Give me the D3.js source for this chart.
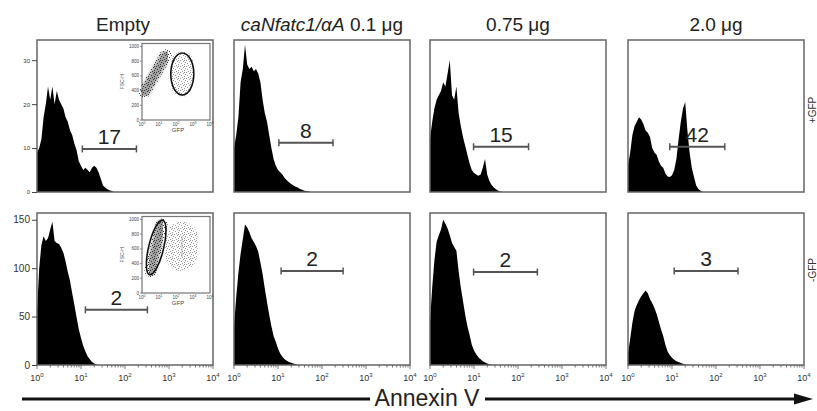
<!DOCTYPE html>
<html>

<head>
  <meta charset="utf-8">
  <style>
    body { margin: 0; background: #fff; }
    text { font-family: "Liberation Sans", Arial, sans-serif; }
  </style>
</head>

<body>
  <script src="https://d3js.org/d3.v7.min.js"></script>
  <script>
    // column titles (italic part + plain part)
    var titleItalic = ["", "caNfatc1/\u03b1A", "", ""];
    var titlePlain = ["Empty", " 0.1 \u03bcg", "0.75 \u03bcg", "2.0 \u03bcg"];
    var rowLabels = ["+GFP", "-GFP"];

    // histogram counts, bins of 0.05 decade starting at 10^0
    var binStep = 0.05;
    var histGfpPos = [
      [9, 10, 12, 17, 20, 24, 21, 24, 20, 23, 21, 20, 19, 17, 16, 14, 13, 11, 9.5, 7, 6, 5, 5.5, 5, 4.5, 5.5, 6, 5.5, 4.5, 3, 1.5, 1, 0.6, 0.4, 0.2],
      [10, 13, 17, 25, 28, 33.5, 29, 28, 28.5, 27.5, 28, 27, 25, 21, 18, 16, 13, 10, 7.5, 6, 5, 4.5, 4, 3.2, 2.7, 2.2, 1.8, 1.5, 1.2, 1, 0.7, 0.5, 0.3, 0.2, 0.1],
      [12, 16, 19, 21, 22, 23, 25, 24, 27, 30, 22, 21, 24, 18, 15, 12.5, 10.5, 8.5, 6.5, 5, 4.3, 4, 3.7, 4, 5.5, 7.5, 4, 2.5, 1.6, 1, 0.6, 0.3, 0.1],
      [6, 9, 13, 15, 16, 17, 16.5, 15.5, 14, 13.5, 12.5, 10, 9, 8.5, 7, 6, 5.5, 4.2, 3.5, 3.4, 3.8, 5, 7.5, 12, 16, 19, 20.5, 14, 9, 5.5, 3.4, 1.5, 0.7, 0.3]
    ];
    var histGfpNeg = [
      [55, 100, 124, 133, 128, 131, 140, 148, 128, 126, 125, 121, 116, 107, 96, 87, 74, 62, 49, 37, 28, 20, 14, 9, 6, 3, 1.5, 0.5],
      [40, 70, 95, 115, 130, 145, 142, 137, 131, 127, 123, 117, 106, 94, 79, 65, 52, 40, 30, 24, 17, 12, 8.5, 6, 4.5, 3, 2.2, 1.5, 0.8, 0.3],
      [45, 80, 108, 127, 134, 140, 150, 146, 141, 134, 126, 122, 118, 97, 80, 66, 52, 40, 31, 21, 15, 11, 8, 6, 4, 2.5, 1.5, 0.8, 0.3],
      [12, 27, 44, 56, 62, 67, 71, 74, 77, 74, 68, 64, 59, 53, 45, 37, 30, 21, 14, 10, 7.5, 5.5, 4, 3, 2, 1.2, 0.6, 0.2]
    ];

    // marker gates: percent, log10 start/end, height in counts
    var gatePctPos = [17, 8, 15, 42];
    var gatePctNeg = [2, 2, 2, 3];
    var gateFromPos = [1.03, 1.02, 0.99, 0.95];
    var gateToPos = [2.26, 2.25, 2.24, 2.2];
    var gateFromNeg = [1.1, 1.07, 0.99, 1.05];
    var gateToNeg = [2.51, 2.48, 2.44, 2.5];
    var gateLevelPos = [9.8, 11.2, 10.3, 10.3];
    var gateLevelNeg = [57, 97, 96, 97];

    var yTicksPos = [0, 10, 20, 30];
    var yTicksNeg = [0, 50, 100, 150];
    var yMax = [34.6, 157];
    var xDecades = [0, 1, 2, 3, 4];

    // GFP vs FSC-H insets: scatter clouds [log GFP, FSC] -> [log GFP, FSC]
    var insetFscTicks = [0, 200, 400, 600, 800, 1000];
    var cloudsPos = [[0.15, 380, 1.4, 880], [2.37, 470, 2.37, 780]];
    var cloudsNeg = [[0.5, 300, 1.15, 930], [2.3, 520, 2.35, 750]];
    // sort gate ellipse: ends of major axis
    var insetGatePos = [2.37, 340, 2.37, 910];
    var insetGateNeg = [0.45, 250, 1.22, 990];

    var W = 817, H = 411;
    var colX = [37, 234, 430, 628], rowY = [40, 213], pw = 176, ph = 152;

    var svg = d3.select("body").append("svg")
      .attr("width", W)
      .attr("height", H);

    var defs = svg.append("defs");
    [["dotsDark", "#3a3a3a"], ["dotsLight", "#999"]].forEach(function(p) {
      var pat = defs.append("pattern").attr("id", p[0])
        .attr("width", 6).attr("height", 6).attr("patternUnits", "userSpaceOnUse");
      [[0, 0], [3, 1], [1, 3], [4, 4], [5, 2], [2, 5], [4, 0]].forEach(function(d) {
        pat.append("rect").attr("x", d[0]).attr("y", d[1])
          .attr("width", 1).attr("height", 1).attr("fill", p[1]);
      });
    });
    defs.append("filter").attr("id", "blur")
      .append("feGaussianBlur").attr("stdDeviation", 1.8);

    // titles
    titlePlain.forEach(function(t, c) {
      var txt = svg.append("text")
        .attr("x", colX[c] + pw / 2 - (c == 0 ? 2 : 0))
        .attr("y", 31)
        .attr("text-anchor", "middle")
        .attr("font-size", 19)
        .attr("fill", "#222");
      if (titleItalic[c]) txt.append("tspan").attr("font-style", "italic").text(titleItalic[c]);
      txt.append("tspan").text(t);
    });

    [0, 1].forEach(function(r) {
      var hists = r == 0 ? histGfpPos : histGfpNeg;
      var pct = r == 0 ? gatePctPos : gatePctNeg;
      var gFrom = r == 0 ? gateFromPos : gateFromNeg;
      var gTo = r == 0 ? gateToPos : gateToNeg;
      var gLev = r == 0 ? gateLevelPos : gateLevelNeg;
      var y = d3.scaleLinear().domain([0, yMax[r]]).range([rowY[r] + ph, rowY[r]]);

      colX.forEach(function(x0, c) {
        var x = d3.scaleLog().domain([1, 1e4]).range([x0, x0 + pw]);
        var g = svg.append("g");

        g.append("clipPath").attr("id", "clip" + r + c)
          .append("rect").attr("x", x0).attr("y", rowY[r]).attr("width", pw).attr("height", ph);

        var pts = [{ lx: 0, c: 0 }].concat(hists[c].map(function(v, i) { return { lx: i * binStep, c: v }; }));
        pts.push({ lx: hists[c].length * binStep, c: 0 });

        var area = d3.area()
          .curve(d3.curveLinear)
          .x(function(d) { return x(Math.pow(10, d.lx)); })
          .y0(y(0))
          .y1(function(d) { return y(d.c); });

        g.append("path")
          .datum(pts)
          .attr("clip-path", "url(#clip" + r + c + ")")
          .attr("fill", "#000")
          .attr("d", area);

        g.append("rect")
          .attr("x", x0).attr("y", rowY[r]).attr("width", pw).attr("height", ph)
          .attr("fill", "none").attr("stroke", "#666").attr("stroke-width", 1.5);

        // gate marker
        var gx1 = x(Math.pow(10, gFrom[c])), gx2 = x(Math.pow(10, gTo[c])), gy = y(gLev[c]);
        g.append("line").attr("x1", gx1).attr("x2", gx2).attr("y1", gy).attr("y2", gy)
          .attr("stroke", "#555").attr("stroke-width", 2);
        [gx1, gx2].forEach(function(px) {
          g.append("line").attr("x1", px).attr("x2", px).attr("y1", gy - 3.5).attr("y2", gy + 3.5)
            .attr("stroke", "#555").attr("stroke-width", 1.5);
        });
        g.append("text")
          .attr("x", (gx1 + gx2) / 2).attr("y", gy - 5)
          .attr("text-anchor", "middle")
          .attr("font-size", 21)
          .attr("fill", "#222")
          .text(pct[c]);

        // y axis on first column
        if (c == 0) {
          var ax = g.append("g")
            .attr("transform", "translate(" + x0 + ",0)")
            .call(d3.axisLeft(y).tickValues(r == 0 ? yTicksPos : yTicksNeg).tickSize(5).tickPadding(2));
          ax.select(".domain").remove();
          ax.selectAll("line").attr("stroke", "#444");
          ax.selectAll("text").attr("font-size", r == 0 ? 6 : 10).attr("fill", "#333")
            .attr("font-family", "Liberation Sans, Arial, sans-serif");
          drawInset(g, x0, rowY[r], r);
        }

        // log x axis on the bottom row
        if (r == 1) {
          var base = rowY[r] + ph;
          xDecades.forEach(function(k) {
            for (var m = 1; m <= 9; m++) {
              if (k == 4 && m > 1) break;
              var px = x(m * Math.pow(10, k));
              g.append("line").attr("x1", px).attr("x2", px)
                .attr("y1", base).attr("y2", base + (m == 1 ? 4 : 2.5))
                .attr("stroke", "#555").attr("stroke-width", 0.8);
            }
            var lab = g.append("text")
              .attr("x", x(Math.pow(10, k))).attr("y", base + 16)
              .attr("text-anchor", "middle")
              .attr("font-size", 9).attr("fill", "#333");
            lab.append("tspan").text("10");
            lab.append("tspan").attr("dy", -4).attr("font-size", 6).text(k);
          });
        }
      });

      // row label in the right margin
      svg.append("text")
        .attr("transform", "translate(816," + (r == 0 ? 110 : 270) + ") rotate(-90)")
        .attr("text-anchor", "middle")
        .attr("font-size", 10)
        .attr("fill", "#333")
        .text(rowLabels[r]);
    });

    function drawInset(g, x0, y0, r) {
      var ix = d3.scaleLog().domain([1, 1e4]).range([x0 + 105, x0 + 173]);
      var iy = d3.scaleLinear().domain([0, 1040]).range([y0 + 80, y0 + 3.5]);
      var ig = g.append("g");

      ig.append("rect")
        .attr("x", ix.range()[0]).attr("y", iy.range()[1])
        .attr("width", 68).attr("height", 76.5)
        .attr("fill", "#fff").attr("stroke", "#777").attr("stroke-width", 1.2);

      var clouds = r == 0 ? cloudsPos : cloudsNeg;
      var widths = r == 0 ? [10, 20] : [10, 30];
      var line = d3.line();
      clouds.forEach(function(cl, i) {
        var seg = [[ix(Math.pow(10, cl[0])), iy(cl[1])], [ix(Math.pow(10, cl[2])), iy(cl[3])]];
        ig.append("path").attr("d", line(seg))
          .attr("stroke", i == 0 ? "#777" : "#c8c8c8")
          .attr("stroke-opacity", 0.7)
          .attr("stroke-width", widths[i])
          .attr("stroke-linecap", "round")
          .attr("filter", "url(#blur)");
        ig.append("path").attr("d", line(seg))
          .attr("stroke", i == 0 ? "url(#dotsDark)" : "url(#dotsLight)")
          .attr("stroke-width", widths[i] + 2)
          .attr("stroke-linecap", "round");
      });

      var eg = r == 0 ? insetGatePos : insetGateNeg;
      var p1 = [ix(Math.pow(10, eg[0])), iy(eg[1])], p2 = [ix(Math.pow(10, eg[2])), iy(eg[3])];
      var len = Math.hypot(p2[0] - p1[0], p2[1] - p1[1]);
      var ang = Math.atan2(p2[1] - p1[1], p2[0] - p1[0]) * 180 / Math.PI;
      ig.append("ellipse")
        .attr("transform", "translate(" + (p1[0] + p2[0]) / 2 + "," + (p1[1] + p2[1]) / 2 + ") rotate(" + ang + ")")
        .attr("rx", len / 2).attr("ry", r == 0 ? 11.5 : 7.5)
        .attr("fill", "none").attr("stroke", "#111").attr("stroke-width", 1.6);

      // inset axes
      insetFscTicks.forEach(function(v) {
        ig.append("line").attr("x1", ix.range()[0] - 2).attr("x2", ix.range()[0])
          .attr("y1", iy(v)).attr("y2", iy(v)).attr("stroke", "#555").attr("stroke-width", 0.6);
        ig.append("text").attr("x", ix.range()[0] - 3).attr("y", iy(v) + 1.5)
          .attr("text-anchor", "end").attr("font-size", 4.5).attr("fill", "#444").text(v);
      });
      xDecades.forEach(function(k) {
        var lab = ig.append("text").attr("x", ix(Math.pow(10, k))).attr("y", iy(0) + 6)
          .attr("text-anchor", "middle").attr("font-size", 4.5).attr("fill", "#444");
        lab.append("tspan").text("10");
        lab.append("tspan").attr("dy", -2).attr("font-size", 3.5).text(k);
      });
      ig.append("text").attr("x", (ix.range()[0] + ix.range()[1]) / 2 + 2).attr("y", iy(0) + 12)
        .attr("text-anchor", "middle").attr("font-size", 6).attr("fill", "#444").text("GFP");
      ig.append("text")
        .attr("transform", "translate(" + (ix.range()[0] - 18) + "," + iy(520) + ") rotate(-90)")
        .attr("text-anchor", "middle").attr("font-size", 5).attr("fill", "#444").text("FSC-H");
    }

    // Annexin V arrow
    svg.append("line").attr("x1", 22).attr("x2", 370).attr("y1", 399).attr("y2", 399)
      .attr("stroke", "#111").attr("stroke-width", 3);
    svg.append("line").attr("x1", 485).attr("x2", 798).attr("y1", 399).attr("y2", 399)
      .attr("stroke", "#111").attr("stroke-width", 3);
    svg.append("path").attr("d", "M794,393.5 L813,399 L794,404.5 Z").attr("fill", "#111");
    svg.append("text")
      .attr("x", 427).attr("y", 406)
      .attr("text-anchor", "middle")
      .attr("font-size", 23)
      .attr("fill", "#222")
      .text("Annexin V");
  </script>
</body>

</html>
